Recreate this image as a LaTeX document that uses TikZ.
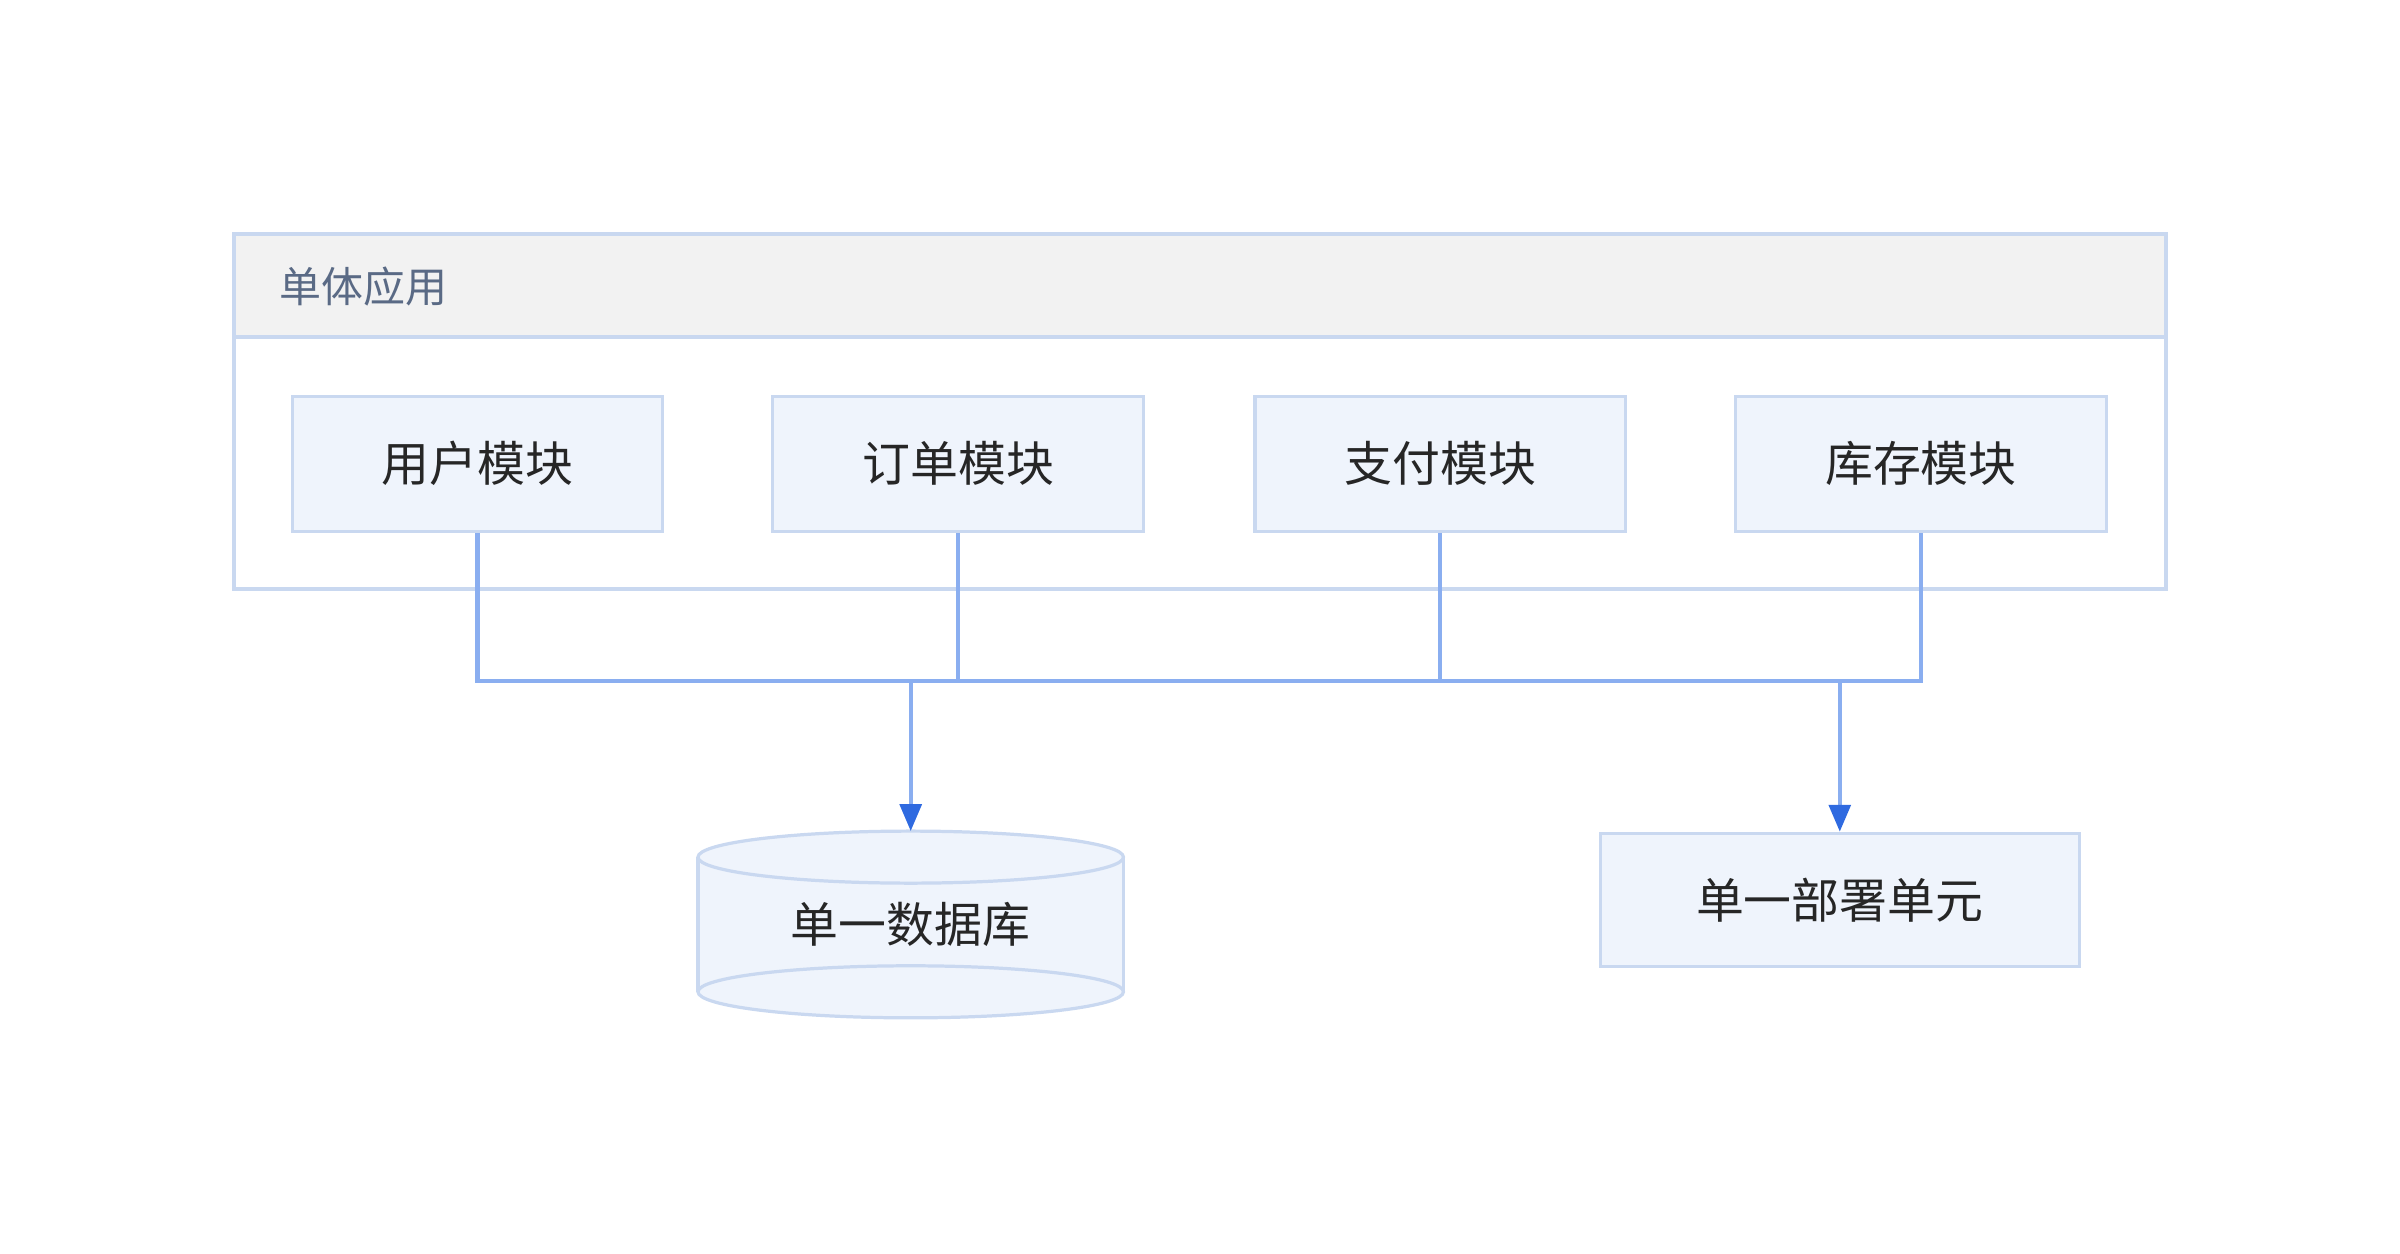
\documentclass[tikz,border=0pt]{standalone}
\usepackage{fontspec}
\setmainfont{Noto Sans CJK SC}
\usetikzlibrary{arrows.meta}
\definecolor{bd}{HTML}{C9D8F0}
\definecolor{fl}{HTML}{EFF4FC}
\definecolor{ln}{HTML}{8AAEF0}
\definecolor{tip}{HTML}{2F6AE0}
\definecolor{hd}{HTML}{5A6A85}
\begin{document}
\begin{tikzpicture}[x=0.01cm,y=-0.01cm,
  box/.style={draw=bd,fill=fl,line width=0.6pt,inner sep=0pt,font=\fontsize{8.9}{10}\selectfont,text=black!85},
  conn/.style={draw=ln,line width=0.8pt},
  arr/.style={conn,-{Triangle[length=5pt,width=4pt,fill=tip,color=tip]}}]
\useasboundingbox (0,0) rectangle (1568,819);
% container
\draw[bd,fill=white,line width=0.7pt] (153,153) rectangle (1415,385);
\draw[bd,fill=black!5,line width=0.7pt] (153,153) rectangle (1415,220);
\node[anchor=west,text=hd,font=\fontsize{7.8}{9}\selectfont,inner sep=0pt] (hdr) at (182,187) {单体应用};
% modules
\foreach \n/\x/\t in {m1/312/用户模块,m2/626/订单模块,m3/941/支付模块,m4/1255/库存模块}{
  \node[box,minimum width=2.42cm,minimum height=0.88cm] (\n) at (\x,303) {\t};
}
% database
\fill[fl] (456,560) -- (456,648) arc[start angle=180,end angle=360,x radius=139,y radius=-17] -- (734,560) arc[start angle=0,end angle=180,x radius=139,y radius=-17] -- cycle;
\draw[bd,line width=0.6pt] (595,560) ellipse[x radius=139,y radius=17];
\draw[bd,line width=0.6pt] (595,648) ellipse[x radius=139,y radius=17];
\draw[bd,line width=0.6pt] (456,560) -- (456,648) (734,560) -- (734,648);
\node[font=\fontsize{8.9}{10}\selectfont,text=black!85,inner sep=0pt] (db) at (595,604) {单一数据库};
\coordinate (dbtop) at (595,543);
% deploy
\node[box,minimum width=3.13cm,minimum height=0.87cm] (dep) at (1202,588) {单一部署单元};
% bus
\coordinate (b1) at (312,445);
\coordinate (b4) at (1255,445);
\coordinate (bd1) at (595,445);
\coordinate (bd2) at (1202,445);
\draw[conn] (m1.south) -- (b1) -- (b4) -- (m4.south);
\draw[conn] (m2.south) -- (m2.south |- b1);
\draw[conn] (m3.south) -- (m3.south |- b1);
\draw[arr] (bd1) -- (dbtop);
\draw[arr] (bd2) -- (dep.north);
\end{tikzpicture}
\end{document}
